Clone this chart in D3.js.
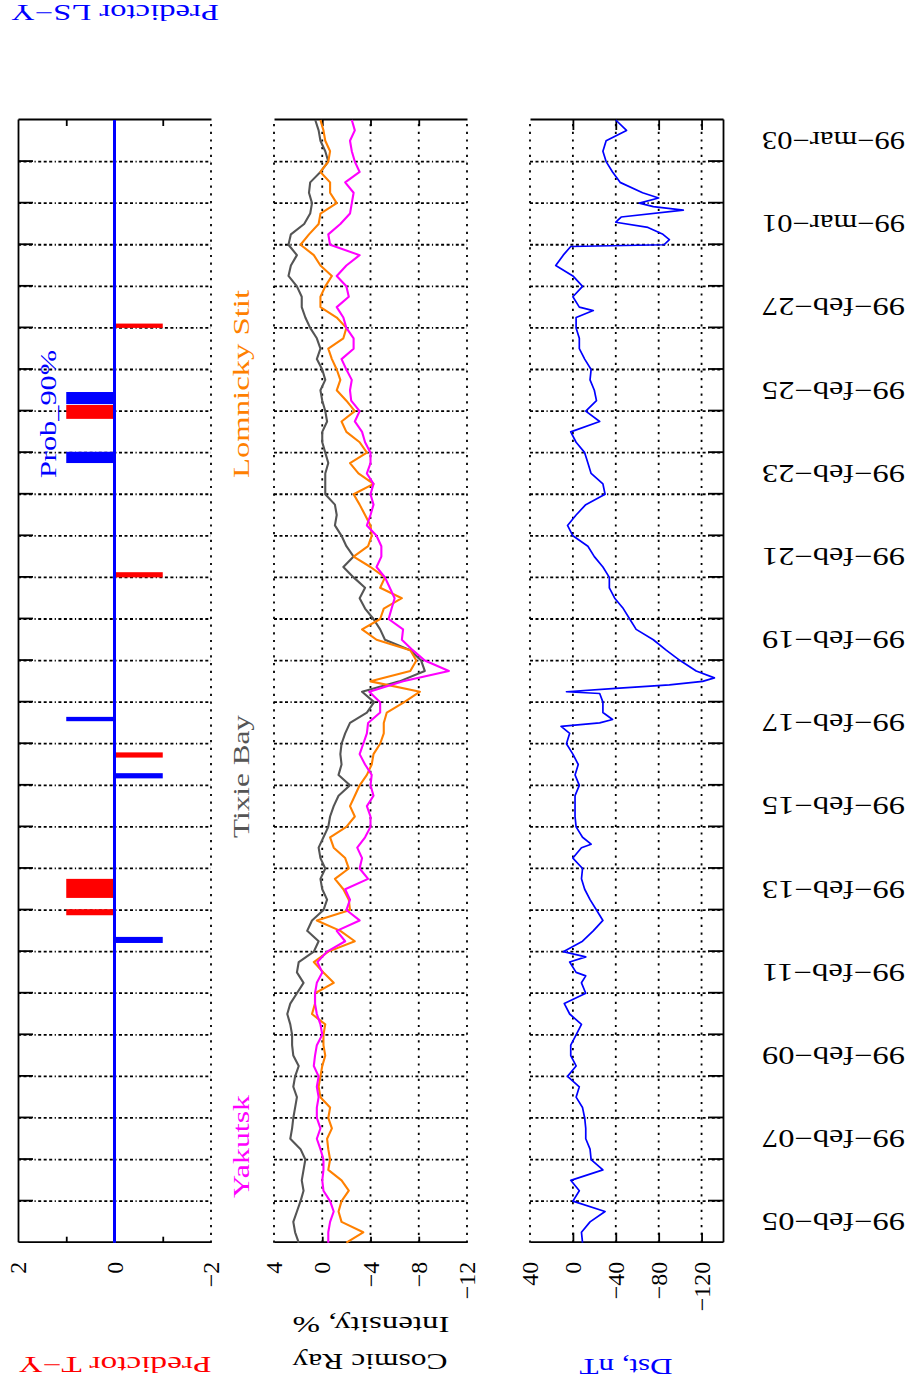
<!DOCTYPE html>
<meta charset="utf-8">
<style>
body { margin: 0; background: #fff; }
svg text { font-family: "Liberation Serif", serif; }
.dayline { stroke: #000; stroke-width: 1.8; stroke-dasharray: 3,2.5,3,2.5,3,2.5,1.2,2.5; fill: none; }
.valline { stroke: #000; stroke-width: 1.8; stroke-dasharray: 2.2,5.5; fill: none; }
.axis path, .axis line { stroke: #000; stroke-width: 1.8; }
.series { fill: none; stroke-width: 1.7; stroke-linejoin: round; }
.cr { stroke-width: 2.1; }
</style>
<body>
<svg width="914" height="1393"></svg>
<script src="https://cdn.jsdelivr.net/npm/d3@7/dist/d3.min.js"></script>
<script>
// time axis: 1999-02-05 00:00 UT .. 1999-03-04 00:00 UT
var startDate = "1999-02-05T00:00Z", endDate = "1999-03-04T00:00Z";
var dateLabels = ["1999-02-05","1999-02-07","1999-02-09","1999-02-11","1999-02-13","1999-02-15",
  "1999-02-17","1999-02-19","1999-02-21","1999-02-23","1999-02-25","1999-02-27","1999-03-01","1999-03-03"];

var predTicks = [2, 0, -2];
var crTicks = [4, 0, -4, -8, -12];
var dstTicks = [40, 0, -40, -80, -120];

// cosmic ray intensity, %, one value every 6 hours from feb-05 00:00
var crStepHours = 6;
var tixieBay = [1.95,2.25,2.4,2.1,1.8,1.55,1.7,1.55,1.4,1.8,2.65,2.5,2.4,2.25,2.1,2.4,2.25,1.95,2.4,2.5,
  2.5,2.65,2.9,2.65,2.1,1.55,2.1,1.95,0.7,0.3,1.25,0.85,-0.1,-0.4,0,0.15,-0.25,0.15,0.3,-0.1,
  -0.5,-0.65,-0.95,-1.35,-2.3,-1.35,-1.6,-1.5,-1.6,-1.9,-2.3,-3.7,-4.3,-3.3,-6.4,-8.5,-8.2,-7.3,-5.2,-4.8,
  -4.25,-3.55,-3.1,-3.55,-2.6,-1.75,-2.6,-2.0,-1.6,-1.05,-1.2,-1.05,-0.25,-0.25,-0.25,-0.5,-0.25,0,0,-0.4,
  -0.25,0,0.15,-0.25,0,0.45,0.15,0.45,1.0,1.4,1.7,1.7,2.1,2.8,2.6,2.1,2.8,2.6,1.5,1.0,
  0.85,1.1,1.0,0.15,-0.5,-0.25,0.15,0.3,0.58];
var lomnickyStit = [-2.0,-3.4,-1.6,-1.35,-1.6,-2.2,-1.6,-0.5,-0.65,-0.5,-0.4,-0.8,-0.5,-0.65,0.15,0.3,0.15,0,-0.25,-0.1,
  -0.1,-0.25,0.85,0.6,0.6,-0.95,-0.1,0.7,-0.5,-2.7,-1.5,0.45,-2.3,-2.2,-1.75,-1.05,-2.2,-1.9,-0.95,-0.65,
  -2.0,-2.7,-2.3,-2.7,-3.1,-3.7,-4.1,-4.25,-4.8,-5.1,-5.1,-5.35,-6.8,-8.1,-4.0,-7.3,-7.8,-7.3,-4.5,-3.3,
  -4.8,-5.1,-6.6,-4.8,-5.2,-4.0,-2.6,-3.8,-4.1,-4.0,-3.55,-3.1,-2.6,-4.25,-3.0,-2.3,-3.7,-3.1,-2.0,-1.6,
  -2.7,-2.0,-1.2,-1.5,-1.2,-0.8,-0.5,-1.75,-2.0,-1.2,0.15,0.15,-0.25,-0.8,0.15,0.7,1.8,1.1,0.3,0.15,
  -1.2,-0.65,-0.65,0.15,-0.5,-0.65,-0.25,-0.1,0.15];
var yakutsk = [-0.5,-0.5,-0.65,-0.95,-0.65,-0.1,0,-0.1,-0.1,0.15,0.45,0.15,0.45,0.45,0.3,0.45,0.3,0.7,0.6,0.45,
  0,0.15,0.45,0.6,0.6,0.45,0,0.4,-0.4,-1.9,-1.2,-3.1,-2.0,-2.3,-1.9,-3.8,-3.1,-3.3,-2.9,-3.55,
  -4.0,-4.0,-3.7,-4.25,-4.0,-4.1,-3.55,-3.1,-3.4,-3.7,-3.8,-4.8,-4.8,-3.9,-6.7,-10.5,-8.5,-7.5,-6.6,-6.7,
  -5.5,-5.75,-6.0,-5.6,-5.2,-4.5,-4.9,-4.9,-4.5,-3.7,-4.0,-4.25,-4.0,-4.25,-3.7,-4.0,-4.0,-3.55,-3.3,-2.7,
  -3.1,-2.4,-2.3,-2.45,-2.0,-1.6,-2.6,-2.6,-2.0,-1.75,-1.2,-2.2,-2.0,-1.2,-2.0,-3.1,-0.65,-0.5,-1.5,-2.3,
  -2.45,-2.6,-1.9,-3.1,-2.7,-2.45,-2.3,-2.7,-2.45];

// Dst, nT (hours after feb-05 00:00, value)
var dstHours = [0,6,12,18,24,30,36,42,48,54,60,66,72,78,84,90,96,102,108,114,120,126,132,138,144,150,154,156,162,165,
  168,174,180,186,192,198,204,210,216,222,228,230,234,240,246,252,258,264,270,276,282,288,294,298,300,302,306,312,317,318,
  320,322,324,326,330,336,342,348,354,360,366,372,378,384,390,396,402,408,414,420,426,432,438,444,450,456,462,468,474,480,
  486,492,498,504,510,516,522,528,534,538,540,546,552,558,564,570,575,576,579,582,586,589,592,596,598,600,603,606,612,618,
  624,630,636,642,648];
var dstValues = [-9,-8,-16,-30,0,-6,2,-28,-17,-16,-12,-12,-11,-9,-3,-6,5,-3,2,2,-3,-8,3,8,-12,-8,-12,-3,3,-12,
  9,-9,-19,-28,-22,-16,-11,-8,-9,0,-8,-17,-9,-3,-2,-2,-2,-6,-2,-5,0,6,3,11,-25,-37,-28,-28,-25,6,
  -40,-90,-121,-132,-115,-100,-87,-75,-59,-53,-47,-39,-34,-34,-28,-20,-14,0,5,-3,-12,-30,-28,-17,-14,-11,-3,2,-25,-12,
  -22,-20,-16,-17,-11,-6,-6,-3,-3,-19,-6,0,-9,0,16,9,2,-85,-90,-84,-70,-40,-45,-103,-75,-62,-80,-65,-44,-37,
  -31,-28,-31,-50,-40];

// predictor events: start/end time, value
var lsyStart = ["1999-02-12T05:00Z","1999-02-16T04:00Z","1999-02-17T13:00Z","1999-02-23T18:00Z","1999-02-25T04:00Z"];
var lsyEnd   = ["1999-02-12T08:30Z","1999-02-16T07:00Z","1999-02-17T15:30Z","1999-02-24T00:30Z","1999-02-25T11:00Z"];
var lsyValue = [-1, -1, 1, 1, 1];
var tyStart = ["1999-02-12T21:00Z","1999-02-13T07:00Z","1999-02-16T16:00Z","1999-02-21T00:00Z","1999-02-24T19:30Z","1999-02-27T00:00Z"];
var tyEnd   = ["1999-02-13T00:30Z","1999-02-13T18:00Z","1999-02-16T19:00Z","1999-02-21T03:00Z","1999-02-25T03:30Z","1999-02-27T02:30Z"];
var tyValue = [1, 1, -1, -1, 1, -1];

var hour = 3600000;
var t0 = new Date(startDate), t1 = new Date(endDate);

var svg = d3.select("svg");
// the plot is drawn in landscape and turned a quarter turn
var g = svg.append("g").attr("transform", "translate(0,1393) rotate(-90)");

var x = d3.scaleUtc().domain([t0, t1]).range([150.3, 1273]);
var yPred = d3.scaleLinear().domain([2, -2]).range([18, 211]);
var yCR = d3.scaleLinear().domain([4, -12]).range([274, 467]);
var yDst = d3.scaleLinear().domain([40, -140]).range([530, 723]);

var days = d3.utcDay.range(d3.utcDay.offset(t0, 1), t1);
var x0 = x.range()[0], x1 = x.range()[1];

function panel(y, tickVals, labelVals, tickLen) {
  var top = y.range()[0], bot = y.range()[1];
  // day grid
  g.append("g").selectAll("line").data(days).join("line")
    .attr("class", "dayline")
    .attr("x1", d => x(d)).attr("x2", d => x(d))
    .attr("y1", top).attr("y2", bot);
  // left and right axes, ticks pointing inward
  g.append("g").attr("class", "axis").attr("transform", "translate(" + x0 + ",0)")
    .call(d3.axisLeft(y).tickValues(tickVals).tickSizeInner(-tickLen).tickSizeOuter(0).tickFormat(""));
  g.append("g").attr("class", "axis").attr("transform", "translate(" + x1 + ",0)")
    .call(d3.axisRight(y).tickValues(tickVals).tickSizeInner(-tickLen).tickSizeOuter(0).tickFormat(""));
  // tick labels
  g.append("g").attr("transform", "translate(" + x0 + ",0)")
    .call(d3.axisLeft(y).tickValues(labelVals).tickSize(0).tickPadding(19).tickFormat(d3.format("d")))
    .call(a => a.select(".domain").remove())
    .selectAll("text").attr("font-size", 24).attr("font-family", "Liberation Serif").attr("fill", "#000");
}
function hline(v) {
  g.append("line").attr("class", "valline").attr("x1", x0).attr("x2", x1).attr("y1", v).attr("y2", v);
}

// predictor panel
panel(yPred, [1, -1], predTicks, 6);
g.append("g").attr("class", "axis").attr("transform", "translate(0,18)")
  .call(d3.axisTop(x).tickValues(days).tickSizeInner(-15).tickSizeOuter(0).tickFormat(""));
hline(211);

function bars(starts, ends, vals, color) {
  g.append("g").selectAll("rect").data(vals).join("rect")
    .attr("x", (d, i) => x(new Date(starts[i])))
    .attr("width", (d, i) => x(new Date(ends[i])) - x(new Date(starts[i])))
    .attr("y", d => Math.min(yPred(0), yPred(d)))
    .attr("height", d => Math.abs(yPred(d) - yPred(0)))
    .attr("fill", color);
}
bars(tyStart, tyEnd, tyValue, "#ff0000");
bars(lsyStart, lsyEnd, lsyValue, "#0000ff");
g.append("line").attr("x1", x0).attr("x2", x1)
  .attr("y1", yPred(0)).attr("y2", yPred(0)).attr("stroke", "#0000ff").attr("stroke-width", 3);

// cosmic ray panel
panel(yCR, [0, -4, -8], crTicks, 6);
[0, -4, -8].forEach(v => hline(yCR(v)));
hline(274); hline(467);

var crLine = d3.line().x((d, i) => x(new Date(+t0 + i * crStepHours * hour))).y(d => yCR(d));
[[tixieBay, "#555555"], [lomnickyStit, "#ff8000"], [yakutsk, "#ff00ff"]].forEach(function (s) {
  g.append("path").datum(s[0]).attr("class", "series cr").attr("stroke", s[1]).attr("d", crLine);
});

// Dst panel
panel(yDst, [0, -40, -80, -120], dstTicks, 10);
[0, -40, -80, -120].forEach(v => hline(yDst(v)));
hline(530);
g.append("g").attr("class", "axis").attr("transform", "translate(0,723)")
  .call(d3.axisBottom(x).tickValues(days).tickSizeInner(-15).tickSizeOuter(0).tickFormat(""));
g.append("path").datum(dstValues).attr("class", "series").attr("stroke", "#0000ff")
  .attr("d", d3.line().x((d, i) => x(new Date(+t0 + dstHours[i] * hour))).y(d => yDst(d)));

// date labels at noon
var fmt = d3.utcFormat("%y-%b-%d");
g.append("g").selectAll("text").data(dateLabels).join("text")
  .attr("transform", d => "translate(" + x(new Date(d + "T12:00Z")) + ",762) rotate(-90)")
  .attr("text-anchor", "end").attr("dy", "0.35em")
  .attr("font-size", 25).attr("textLength", 143).attr("lengthAdjust", "spacingAndGlyphs")
  .text(d => fmt(new Date(d + "T00:00Z")).toLowerCase().replace(/-/g, "\u2212"));

// titles
function vlabel(txt, X, Y, len, color) {
  g.append("text").attr("transform", "translate(" + X + "," + Y + ") rotate(-90)")
    .attr("text-anchor", "middle").attr("dy", "0.35em").attr("font-size", 24)
    .attr("textLength", len).attr("lengthAdjust", "spacingAndGlyphs")
    .attr("fill", color).text(txt);
}
vlabel("Predictor T\u2212Y", 28, 115, 193, "#ff0000");
vlabel("Predictor LS\u2212Y", 1380, 115, 208, "#0000ff");
vlabel("Cosmic Ray", 31, 370, 155, "#000");
vlabel("Intensity, %", 68, 371, 157, "#000");
vlabel("Dst, nT", 26, 626, 93, "#0000ff");

function hlabel(txt, X, Y, len, color) {
  g.append("text").attr("x", X).attr("y", Y).attr("dy", "0.35em").attr("font-size", 24)
    .attr("textLength", len).attr("lengthAdjust", "spacingAndGlyphs")
    .attr("fill", color).text(txt);
}
hlabel("Lomnicky Stit", 915, 241, 188, "#ff8000");
hlabel("Tixie Bay", 555, 241, 123, "#555555");
hlabel("Yakutsk", 195, 241, 103, "#ff00ff");
hlabel("Prob_90%", 915, 48, 128, "#0000ff");
</script>
